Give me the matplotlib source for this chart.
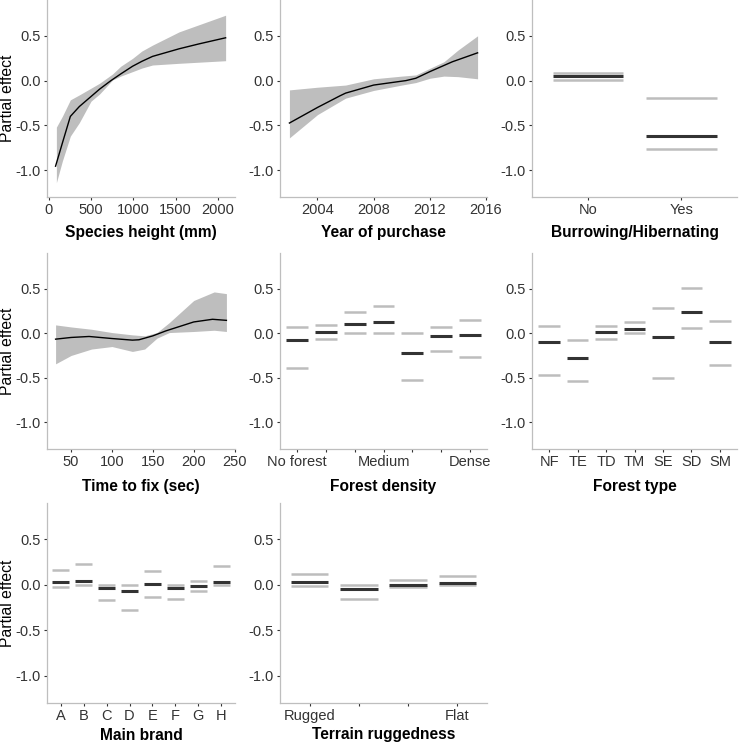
import matplotlib
matplotlib.use("Agg")
import matplotlib.pyplot as plt

plt.rcParams['font.family'] = ['Liberation Sans', 'DejaVu Sans']

# ---------------- data ----------------
# Panel 1: species height
height_x = [80, 160, 255, 361, 499, 600, 735, 850, 990, 1100, 1226, 1540, 1776, 2090]
height_fit = [-0.956, -0.70, -0.40, -0.29, -0.178, -0.096, 0.0, 0.074, 0.16, 0.215, 0.27, 0.355, 0.41, 0.478]
height_band_x = [90, 160, 255, 361, 499, 600, 754, 850, 990, 1100, 1226, 1540, 2090]
height_up = [-0.52, -0.40, -0.215, -0.16, -0.085, -0.03, 0.074, 0.16, 0.248, 0.33, 0.396, 0.544, 0.73]
height_lo = [-1.14, -0.90, -0.62, -0.47, -0.23, -0.15, 0.007, 0.05, 0.10, 0.14, 0.174, 0.193, 0.222]

# Panel 2: year of purchase
year_x = [2002.0, 2004.0, 2005.6, 2006.0, 2008.0, 2010.3, 2011.0, 2012.0, 2013.6, 2015.4]
year_fit = [-0.474, -0.30, -0.17, -0.14, -0.05, 0.0, 0.026, 0.10, 0.21, 0.31]
year_band_x = [2002.0, 2004.0, 2006.0, 2008.0, 2010.0, 2011.0, 2012.0, 2013.0, 2014.0, 2015.4]
year_up = [-0.104, -0.074, -0.05, 0.02, 0.05, 0.063, 0.137, 0.21, 0.34, 0.50]
year_lo = [-0.64, -0.38, -0.196, -0.11, -0.05, -0.022, 0.026, 0.05, 0.044, 0.02]

# Panel 4: time to fix
fix_x = [31, 50, 72, 100, 125, 133, 150, 166, 200, 223, 240]
fix_fit = [-0.067, -0.048, -0.037, -0.06, -0.078, -0.074, -0.03, 0.026, 0.126, 0.156, 0.144]
fix_band_x = [31, 50, 75, 100, 125, 140, 155, 170, 200, 225, 240]
fix_up = [0.093, 0.07, 0.044, 0.007, -0.019, -0.03, 0.007, 0.118, 0.367, 0.463, 0.444]
fix_lo = [-0.344, -0.25, -0.178, -0.15, -0.205, -0.178, -0.056, 0.007, 0.019, 0.033, 0.019]

# Panel 3: burrowing/hibernating
burrow_labels = ["No", "Yes"]
burrow_fit = [0.048, -0.615]
burrow_up = [0.08, -0.196]
burrow_lo = [0.01, -0.767]

# Panel 5: forest density
density_labels = ["No forest", "", "", "Medium", "", "", "Dense"]
density_fit = [-0.078, 0.015, 0.107, 0.126, -0.219, -0.033, -0.019]
density_up = [0.07, 0.093, 0.233, 0.304, 0.0, 0.074, 0.144]
density_lo = [-0.389, -0.067, 0.0, 0.0, -0.53, -0.204, -0.27]

# Panel 6: forest type
ftype_labels = ["NF", "TE", "TD", "TM", "SE", "SD", "SM"]
ftype_fit = [-0.096, -0.278, 0.015, 0.044, -0.044, 0.233, -0.104]
ftype_up = [0.081, -0.081, 0.078, 0.126, 0.278, 0.507, 0.137]
ftype_lo = [-0.474, -0.533, -0.07, 0.0, -0.507, 0.063, -0.359]

# Panel 7: main brand
brand_labels = ["A", "B", "C", "D", "E", "F", "G", "H"]
brand_fit = [0.03, 0.044, -0.037, -0.067, 0.007, -0.037, -0.011, 0.026]
brand_up = [0.159, 0.23, -0.004, -0.004, 0.156, -0.004, 0.044, 0.207]
brand_lo = [-0.026, -0.004, -0.17, -0.278, -0.137, -0.156, -0.07, 0.0]

# Panel 8: terrain ruggedness
terrain_labels = ["Rugged", "", "", "Flat"]
terrain_fit = [0.03, -0.048, 0.0, 0.022]
terrain_up = [0.119, -0.004, 0.052, 0.093]
terrain_lo = [-0.011, -0.159, -0.019, -0.004]

# ---------------- layout ----------------
W, H = 740, 745
fig = plt.figure(figsize=(W / 100, H / 100), dpi=100)

cols = [(47, 235), (280, 487), (532, 737)]
rows = [(0, 197), (253, 449), (503, 703)]
xlabel_y = [233, 486, 735]

AXIS_COL = '#BEBEBE'
TICK_COL = '#333333'
TEXT_COL = '#333333'
BAND_COL = '#BEBEBE'
DARK = '#333333'
LIGHT = '#BDBDBD'


def make_ax(r, c):
    x0, x1 = cols[c]
    yt, yb = rows[r]
    ax = fig.add_axes([x0 / W, 1 - yb / H, (x1 - x0) / W, (yb - yt) / H])
    for s in ['top', 'right']:
        ax.spines[s].set_visible(False)
    for s in ['left', 'bottom']:
        ax.spines[s].set_color(AXIS_COL)
        ax.spines[s].set_linewidth(0.9)
    ax.tick_params(axis='both', colors=TICK_COL, length=2.4, width=0.8,
                   labelsize=10.5, labelcolor=TEXT_COL, pad=2)
    ax.set_ylim(-1.3, 0.9)
    ax.set_yticks([-1.0, -0.5, 0.0, 0.5])
    ax.set_yticklabels(['-1.0', '-0.5', '0.0', '0.5'])
    return ax


def label(r, c, text):
    x0, x1 = cols[c]
    fig.text((x0 + x1) / 2 / W, 1 - xlabel_y[r] / H, text, ha='center', va='center',
             fontsize=11.2, fontweight='bold', color='black')


def ylabel(r):
    yt, yb = rows[r]
    fig.text(8 / W, 1 - (yt + yb) / 2 / H, 'Partial effect', rotation=90,
             ha='center', va='center', fontsize=11.3, color='black')


def smooth_panel(ax, x, fit, bx, up, lo):
    ax.fill_between(bx, lo, up, color=BAND_COL, linewidth=0)
    ax.plot(x, fit, color='black', linewidth=1.0)


def factor_panel(ax, labels, fit, up, lo):
    n = len(labels)
    pos = list(range(1, n + 1))
    hw = 0.38
    for p, u, l in zip(pos, up, lo):
        ax.hlines([u, l], p - hw, p + hw, color=LIGHT, linewidth=1.8, capstyle='butt')
    for p, f in zip(pos, fit):
        ax.hlines(f, p - hw, p + hw, color=DARK, linewidth=2.2, capstyle='butt')
    ax.set_xlim(0.4, n + 0.6)
    ax.set_xticks(pos)
    ax.set_xticklabels(labels)


# Panel 1
ax = make_ax(0, 0)
smooth_panel(ax, height_x, height_fit, height_band_x, height_up, height_lo)
ax.set_xlim(-21, 2201)
ax.set_xticks([0, 500, 1000, 1500, 2000])
label(0, 0, 'Species height (mm)')
ylabel(0)

# Panel 2
ax = make_ax(0, 1)
smooth_panel(ax, year_x, year_fit, year_band_x, year_up, year_lo)
ax.set_xlim(2001.33, 2016.07)
ax.set_xticks([2004, 2008, 2012, 2016])
label(0, 1, 'Year of purchase')

# Panel 3
ax = make_ax(0, 2)
factor_panel(ax, burrow_labels, burrow_fit, burrow_up, burrow_lo)
label(0, 2, 'Burrowing/Hibernating')

# Panel 4
ax = make_ax(1, 0)
smooth_panel(ax, fix_x, fix_fit, fix_band_x, fix_up, fix_lo)
ax.set_xlim(20.5, 250.5)
ax.set_xticks([50, 100, 150, 200, 250])
label(1, 0, 'Time to fix (sec)')
ylabel(1)

# Panel 5
ax = make_ax(1, 1)
factor_panel(ax, density_labels, density_fit, density_up, density_lo)
label(1, 1, 'Forest density')

# Panel 6
ax = make_ax(1, 2)
factor_panel(ax, ftype_labels, ftype_fit, ftype_up, ftype_lo)
label(1, 2, 'Forest type')

# Panel 7
ax = make_ax(2, 0)
factor_panel(ax, brand_labels, brand_fit, brand_up, brand_lo)
label(2, 0, 'Main brand')
ylabel(2)

# Panel 8
ax = make_ax(2, 1)
factor_panel(ax, terrain_labels, terrain_fit, terrain_up, terrain_lo)
label(2, 1, 'Terrain ruggedness')

fig.savefig('out.png', dpi=100, facecolor='white')
